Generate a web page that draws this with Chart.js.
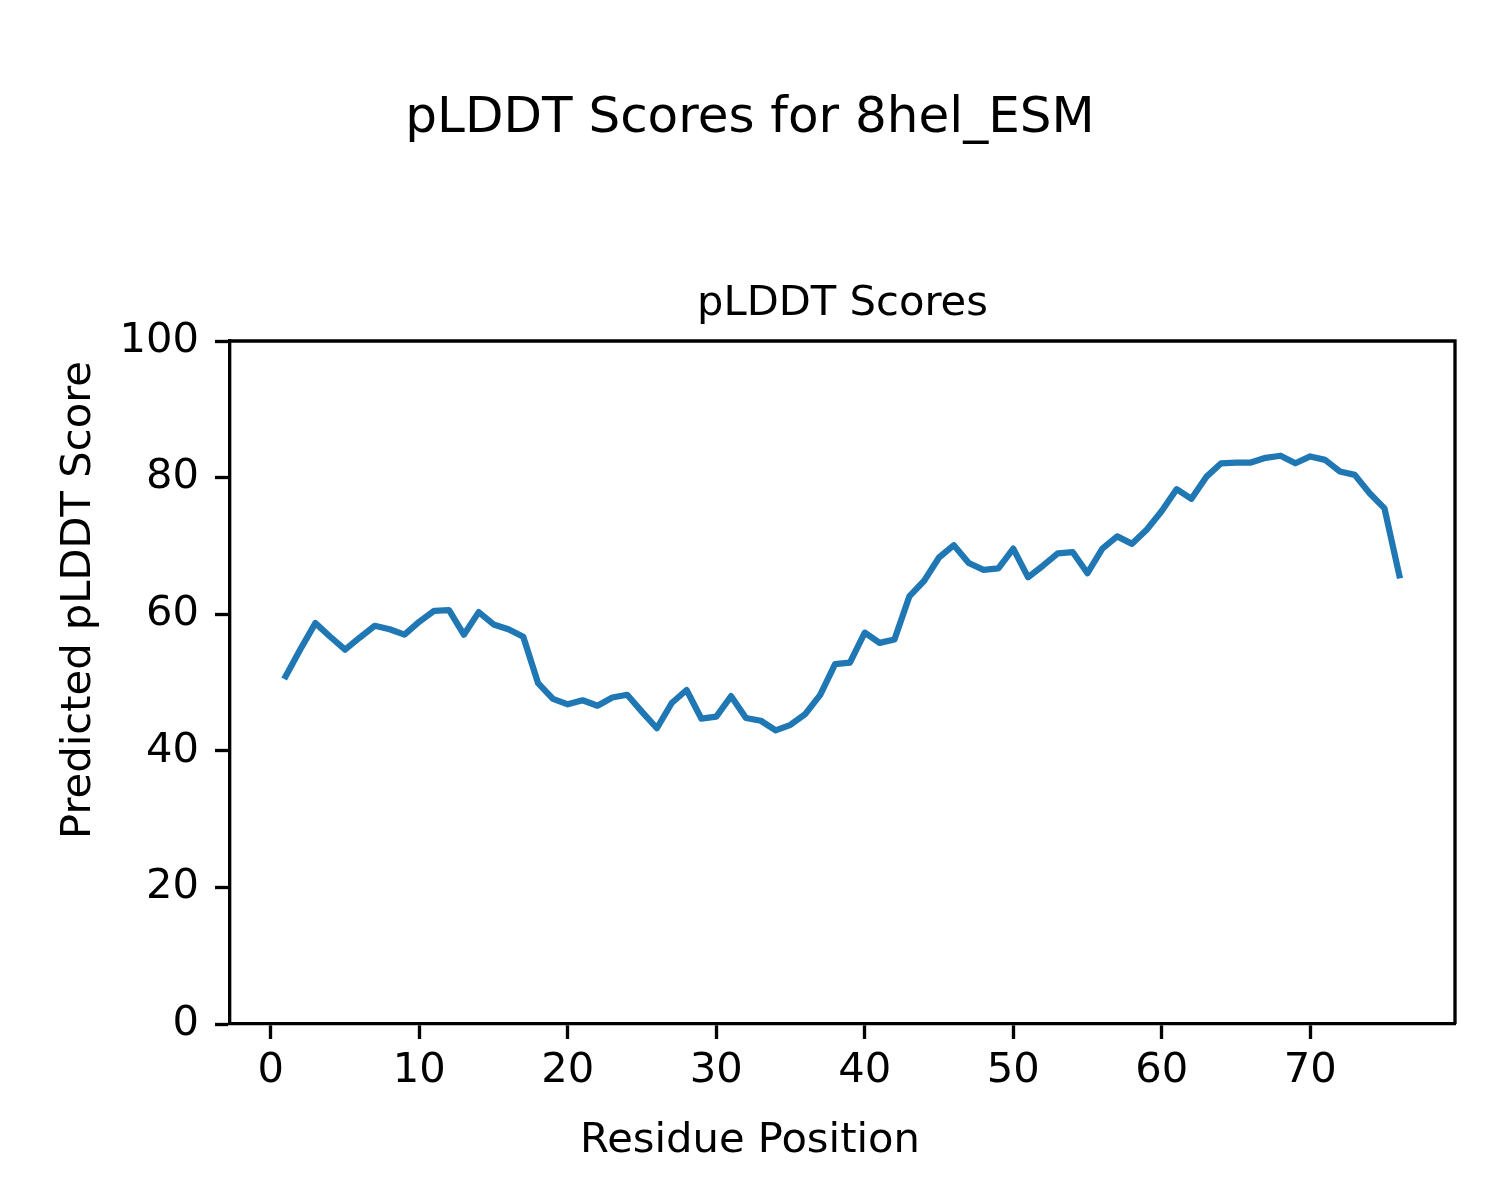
<!DOCTYPE html>
<html>
<head>
  <meta charset="UTF-8">
  <title>pLDDT Scores for 8hel_ESM</title>
  <script src="https://cdn.jsdelivr.net/npm/chart.js"></script>
  <style>
    body {
      margin: 0;
      background: #fff;
    }
    canvas {
      display: block;
    }
  </style>
</head>
<body>
  <canvas id="plddtChart" width="1500" height="1200"></canvas>

  <script>
    const residues = [
      1, 2, 3, 4, 5, 6, 7, 8, 9, 10, 11, 12, 13, 14, 15, 16, 17, 18, 19, 20,
      21, 22, 23, 24, 25, 26, 27, 28, 29, 30, 31, 32, 33, 34, 35, 36, 37, 38, 39, 40,
      41, 42, 43, 44, 45, 46, 47, 48, 49, 50, 51, 52, 53, 54, 55, 56, 57, 58, 59, 60,
      61, 62, 63, 64, 65, 66, 67, 68, 69, 70, 71, 72, 73, 74, 75, 76
    ];
    const plddt = [
      50.9, 54.9, 58.7, 56.7, 54.8, 56.6, 58.3, 57.8, 57.0, 58.9,
      60.5, 60.6, 57.0, 60.3, 58.5, 57.8, 56.7, 49.9, 47.6, 46.8,
      47.4, 46.6, 47.8, 48.2, 45.7, 43.3, 47.0, 48.9, 44.7, 45.0,
      48.0, 44.8, 44.4, 43.0, 43.8, 45.4, 48.2, 52.7, 52.9, 57.3,
      55.8, 56.3, 62.6, 64.9, 68.3, 70.1, 67.5, 66.5, 66.7, 69.6,
      65.4, 67.1, 68.9, 69.1, 66.0, 69.6, 71.4, 70.3, 72.4, 75.1,
      78.3, 76.9, 80.1, 82.1, 82.2, 82.2, 82.9, 83.2, 82.1, 83.1,
      82.6, 80.9, 80.4, 77.7, 75.5, 65.7
    ];
    const xTicks = [0, 10, 20, 30, 40, 50, 60, 70];
    const yTicks = [0, 20, 40, 60, 80, 100];

    const FONT = 'DejaVu Sans';
    const PT = 300 / 72;  // figure was 300 dpi

    // fig.supxlabel / fig.supylabel are centred on the figure, not the axes,
    // and matplotlib draws a closed box around the axes
    const figureExtras = {
      id: 'figureExtras',
      afterDraw(chart) {
        const ctx = chart.ctx;
        const a = chart.chartArea;
        ctx.save();
        ctx.strokeStyle = '#000';
        ctx.lineWidth = 0.8 * PT;
        ctx.beginPath();
        ctx.moveTo(a.left, a.top);
        ctx.lineTo(a.right, a.top);
        ctx.lineTo(a.right, a.bottom);
        ctx.stroke();

        ctx.fillStyle = '#000';
        ctx.font = (10 * PT) + 'px "' + FONT + '"';
        ctx.textAlign = 'center';
        ctx.textBaseline = 'alphabetic';
        ctx.fillText('Residue Position', chart.width / 2, 1152);

        ctx.translate(90, chart.height / 2);
        ctx.rotate(-Math.PI / 2);
        ctx.fillText('Predicted pLDDT Score', 0, 0);
        ctx.restore();
      }
    };

    Chart.defaults.color = '#000';
    Chart.defaults.font.family = FONT;

    new Chart(document.getElementById('plddtChart'), {
      type: 'line',
      data: {
        datasets: [{
          label: 'pLDDT',
          data: residues.map((r, i) => ({ x: r, y: plddt[i] })),
          borderColor: '#1f77b4',
          borderWidth: 1.5 * PT,
          borderJoinStyle: 'round',
          borderCapStyle: 'square',
          pointRadius: 0,
          tension: 0,
          fill: false
        }]
      },
      options: {
        responsive: false,
        animation: false,
        devicePixelRatio: 1,
        layout: {
          padding: 0
        },
        plugins: {
          legend: { display: false },
          tooltip: { enabled: false },
          title: {
            display: true,
            text: 'pLDDT Scores for 8hel_ESM',
            font: { size: 12 * PT, weight: 'normal' },
            padding: { top: 89, bottom: 130 }
          },
          subtitle: {
            display: true,
            text: 'pLDDT Scores',
            fullSize: false,
            font: { size: 10 * PT, weight: 'normal' },
            padding: { top: 0, bottom: 12 }
          }
        },
        scales: {
          x: {
            type: 'linear',
            min: -2.75,
            max: 79.75,
            afterFit(scale) { scale.height = 176; },
            afterBuildTicks(scale) { scale.ticks = xTicks.map(v => ({ value: v })); },
            ticks: {
              autoSkip: false,
              maxRotation: 0,
              padding: 7,
              font: { size: 10 * PT },
              color: '#000'
            },
            grid: {
              drawOnChartArea: false,
              drawTicks: true,
              tickLength: 15,
              tickWidth: 0.8 * PT,
              tickColor: '#000'
            },
            border: { display: true, color: '#000', width: 0.8 * PT }
          },
          y: {
            type: 'linear',
            min: 0,
            max: 100,
            afterFit(scale) { scale.width = 230; },
            afterBuildTicks(scale) { scale.ticks = yTicks.map(v => ({ value: v })); },
            ticks: {
              autoSkip: false,
              padding: 16,
              font: { size: 10 * PT },
              color: '#000'
            },
            grid: {
              drawOnChartArea: false,
              drawTicks: true,
              tickLength: 15,
              tickWidth: 0.8 * PT,
              tickColor: '#000'
            },
            border: { display: true, color: '#000', width: 0.8 * PT }
          },
          // empty right margin, keeps the figure title centred on the canvas
          yRight: {
            type: 'linear',
            position: 'right',
            afterFit(scale) { scale.width = 45; },
            ticks: { display: false },
            grid: { display: false },
            border: { display: false }
          }
        }
      },
      plugins: [figureExtras]
    });
  </script>
</body>
</html>
